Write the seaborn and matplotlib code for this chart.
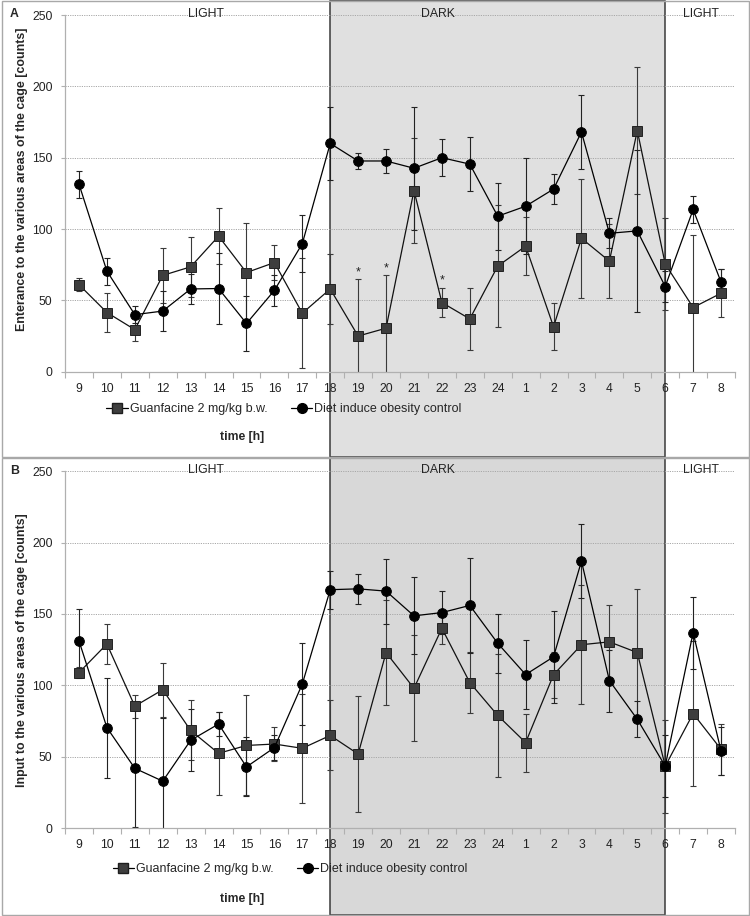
import numpy as np
import pandas as pd
import matplotlib
matplotlib.use("Agg")
import matplotlib.pyplot as plt
from matplotlib.patches import Rectangle
from matplotlib.lines import Line2D
import seaborn as sns

# hours of the recording, in the order shown on the x axis
hours = [str(h) for h in range(9, 25)] + [str(h) for h in range(1, 9)]
dark_start, dark_end = "18", "6"

group_names = ["Guanfacine 2 mg/kg b.w.", "Diet induce obesity control"]

# panel A - entrances (mean and error)
a_guan = [61, 41.5, 29.5, 67.5, 73.5, 95, 69.5, 76.5, 41, 58, 25, 30.5,
          127, 48.5, 37, 74, 88, 31.5, 93.5, 77.5, 169, 75.5, 45, 55]
a_guan_err = [4.5, 14, 8, 19, 21, 19.5, 35, 12, 38.5, 24.5, 40, 37,
              37, 10.5, 22, 42.5, 20.5, 16.5, 41.5, 26, 44.5, 32.5, 51, 17]
a_dio = [131.5, 70.5, 40, 42.5, 58, 58.3, 33.8, 57, 89.8, 160, 147.7, 147.7,
         142.6, 150, 145.5, 109, 116, 128, 168, 97, 98.7, 59.7, 113.7, 62.8]
a_dio_err = [9.5, 9.5, 6, 14, 10.5, 25, 19, 11, 20, 25.5, 5.6, 8.7,
             43, 13, 19, 23.5, 33.6, 10.5, 26, 10.5, 57, 10.8, 9.5, 9]
a_stars = ["19", "20", "22"]

# panel B - inputs (mean and error)
b_guan = [109, 129, 85.5, 97, 68.5, 52.5, 58, 59, 56, 65, 52, 123,
          98, 140, 102, 79, 60, 107.5, 128.5, 130.5, 123, 43.5, 80.3, 55.3]
b_guan_err = [4, 14, 8, 19, 21, 29, 35, 12, 38, 24.5, 40.3, 37,
              37, 11, 21.5, 43, 20.3, 16, 41.5, 25.7, 44.6, 32.5, 51, 18]
b_dio = [131.2, 70.5, 42, 33, 61.6, 73, 43, 56.5, 101, 167, 167.6, 166,
         148.7, 151, 156, 129.5, 107.6, 120, 187, 103.4, 76.3, 43.6, 137, 54]
b_dio_err = [22, 35, 41, 44, 21.7, 8.7, 20.7, 9, 29, 13.3, 10.6, 22.7,
             27, 15, 33.4, 20.5, 24, 32, 25.7, 21.7, 12.6, 21.7, 25.2, 17]

sns.set_theme(style="white")
plt.rcParams["font.family"] = ["Liberation Sans", "DejaVu Sans"]

fig = plt.figure(figsize=(7.5, 9.16), dpi=100)
ax_a = fig.add_axes([0.0867, 0.5942, 0.8933, 0.3894])
ax_b = fig.add_axes([0.0867, 0.0957, 0.8933, 0.3900])

square_face = "#3e3e3e"


def draw_panel(ax, guan, guan_err, dio, dio_err, ylabel, letter, dark_fill,
               rect_y, label_y, legend_y, time_y, legend_x, stars=()):
    df = pd.DataFrame({"hour": hours * 2,
                       "value": guan + dio,
                       "group": [group_names[0]] * len(hours) + [group_names[1]] * len(hours)})
    ax.set_facecolor("none")
    ax.set_axisbelow(True)

    # night period
    i0, i1 = hours.index(dark_start), hours.index(dark_end)
    ax.add_patch(Rectangle((i0, rect_y[0]), i1 - i0, rect_y[1] - rect_y[0],
                           transform=ax.get_xaxis_transform(), clip_on=False,
                           facecolor=dark_fill, edgecolor="#3a3a3a", lw=1.1, zorder=0.2))

    xs = np.arange(len(hours))
    ax.errorbar(xs, guan, yerr=guan_err, fmt="none", ecolor="#3a3a3a",
                elinewidth=0.8, capsize=2.5, capthick=0.8, zorder=1.8)
    ax.errorbar(xs, dio, yerr=dio_err, fmt="none", ecolor="#222222",
                elinewidth=0.8, capsize=2.5, capthick=0.8, zorder=1.8)

    sns.pointplot(data=df, x="hour", y="value", hue="group", order=hours,
                  hue_order=group_names, markers=["s", "o"], linestyles=["-", "-"],
                  palette=["#111111", "#000000"], errorbar=None, markersize=7,
                  linewidth=0.9, legend=False, ax=ax)
    for ln in ax.lines:
        if ln.get_marker() == "s":
            ln.set_markerfacecolor(square_face)
            ln.set_markeredgecolor("#1e1e1e")
            ln.set_markersize(7.5)
            ln.set_zorder(3)
        elif ln.get_marker() == "o":
            ln.set_markerfacecolor("black")
            ln.set_markeredgecolor("black")
            ln.set_markersize(7)
            ln.set_zorder(3.2)

    ax.set_xlim(-0.5, len(hours) - 0.5)
    ax.set_ylim(0, 250)
    ax.set_yticks(range(0, 251, 50))
    ax.set_xticks(np.arange(-0.5, len(hours), 1), minor=True)
    ax.tick_params(axis="x", which="major", length=0, pad=8, labelsize=8.7, colors="#222222")
    ax.tick_params(axis="x", which="minor", length=4, width=0.8, color="#b0b0b0", direction="out", bottom=True)
    ax.tick_params(axis="y", length=3, width=0.8, color="#b0b0b0", direction="out",
                   left=True, pad=6, labelsize=8.7, labelcolor="#222222")
    ax.yaxis.grid(True, linestyle=(0, (1.2, 1.2)), color="#a8a8a8", lw=0.7)
    ax.xaxis.grid(False)
    for side in ["top", "right"]:
        ax.spines[side].set_visible(False)
    for side in ["left", "bottom"]:
        ax.spines[side].set_color("#b0b0b0")
        ax.spines[side].set_linewidth(0.9)
    ax.set_xlabel("")
    ax.set_ylabel("")

    for name, xpos in [("LIGHT", 4.55), ("DARK", 12.85), ("LIGHT", 22.27)]:
        ax.text(xpos, 250.5, name, ha="center", va="center", fontsize=8.8, color="#222222")

    for s in stars:
        k = hours.index(s)
        ax.text(k, guan[k] + guan_err[k] + 0.5, "*", ha="center", va="bottom",
                fontsize=9, color="#222222")

    fig.text(0.030, label_y, ylabel, rotation=90, ha="center", va="center",
             fontsize=8.9, fontweight="bold")
    fig.text(0.019, (rect_y[2]), letter, ha="center", va="center",
             fontsize=8.8, fontweight="bold")

    handles = [Line2D([0], [0], color="black", lw=0.9, marker="s", markersize=7.5,
                      markerfacecolor=square_face, markeredgecolor="#1e1e1e"),
               Line2D([0], [0], color="black", lw=0.9, marker="o", markersize=7,
                      markerfacecolor="black", markeredgecolor="black")]
    ax.legend(handles, group_names, loc="center left", bbox_to_anchor=(legend_x, legend_y),
              bbox_transform=fig.transFigure, ncol=2, frameon=False, fontsize=9,
              handlelength=1.7, handletextpad=0.15, columnspacing=1.9, borderpad=0,
              borderaxespad=0)
    fig.text(0.323, time_y, "time [h]", ha="center", va="center", fontsize=8.8,
             fontweight="bold")


draw_panel(ax_a, a_guan, a_guan_err, a_dio, a_dio_err,
           "Enterance to the various areas of the cage [counts]", "A", "#e0e0e0",
           (-0.239, 1.039, 1 - 14 / 916), 1 - 179 / 916, 1 - 409 / 916, 1 - 437 / 916,
           0.142, stars=a_stars)
draw_panel(ax_b, b_guan, b_guan_err, b_dio, b_dio_err,
           "Input to the various areas of the cage [counts]", "B", "#d8d8d8",
           (-0.2425, 1.036, 1 - 471 / 916), 1 - 650 / 916, 1 - 869 / 916, 1 - 899 / 916,
           0.150)

# panel frames
for y0, h in [(0.5011, 0.4975), (0.001, 0.4995)]:
    fig.add_artist(Rectangle((0.002, y0), 0.996, h, transform=fig.transFigure,
                             fill=False, edgecolor="#a8a8a8", lw=1.0))

fig.savefig("out.png", dpi=100)
